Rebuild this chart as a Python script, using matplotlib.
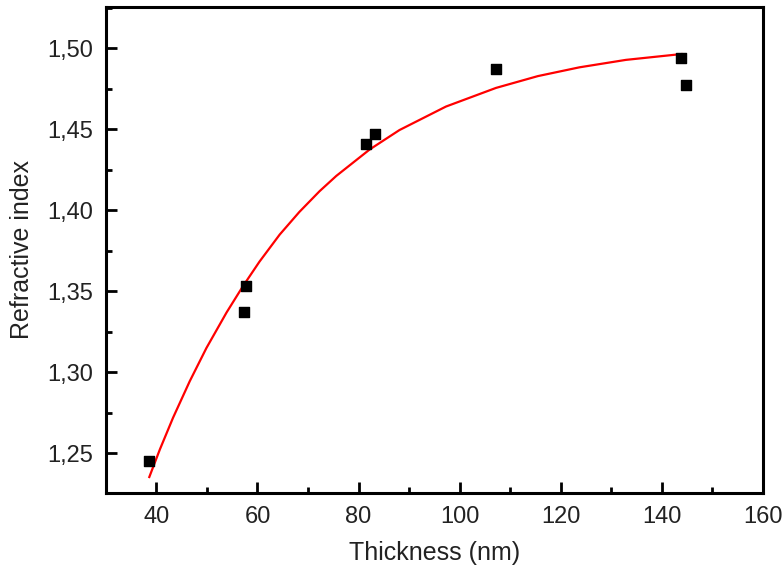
import matplotlib
matplotlib.use("Agg")
import matplotlib.pyplot as plt
from matplotlib.ticker import FuncFormatter, MultipleLocator

plt.rcParams['font.family'] = ['Liberation Sans', 'DejaVu Sans']

# measured points
thickness = [38.5, 57.3, 57.8, 81.4, 83.2, 107.2, 143.8, 144.8]
index = [1.245, 1.337, 1.353, 1.441, 1.447, 1.487, 1.494, 1.477]

# fitted curve
fit_x = [38.6, 40.7, 43.3, 46.6, 49.9, 53.9, 57.1, 60.4, 64.4, 68.3,
         72.3, 75.6, 82.2, 88.1, 97.3, 107.2, 115.5, 123.7, 132.9, 143.9]
fit_y = [1.2354, 1.2525, 1.2720, 1.2945, 1.3150, 1.3370, 1.3530, 1.3683,
         1.3850, 1.3990, 1.4118, 1.4212, 1.4375, 1.4495, 1.4640, 1.4755,
         1.4828, 1.4882, 1.4928, 1.4964]

fig = plt.figure(figsize=(7.84, 5.74), dpi=100)
ax = fig.add_axes([0.135, 0.141, 0.838, 0.847])

ax.plot(fit_x, fit_y, color="red", lw=1.6, zorder=2)
ax.scatter(thickness, index, marker="s", s=55, color="black", zorder=3)

ax.set_xlim(30, 160)
ax.set_ylim(1.2255, 1.5255)
ax.xaxis.set_major_locator(MultipleLocator(20))
ax.xaxis.set_minor_locator(MultipleLocator(10))
ax.yaxis.set_major_locator(MultipleLocator(0.05))
ax.yaxis.set_minor_locator(MultipleLocator(0.025))
ax.yaxis.set_major_formatter(FuncFormatter(lambda v, p: ("%.2f" % v).replace(".", ",")))

for s in ax.spines.values():
    s.set_linewidth(2.2)
ax.tick_params(which="major", direction="in", length=8, width=2,
               labelsize=17, labelcolor="#222222", pad=9)
ax.tick_params(which="minor", direction="in", length=4.5, width=2)
ax.tick_params(top=False, right=False, which="both")

ax.set_xlabel("Thickness (nm)", fontsize=18, color="#222222", labelpad=10)
ax.set_ylabel("Refractive index", fontsize=18, color="#222222", labelpad=10)

fig.savefig("out.png", dpi=100)
